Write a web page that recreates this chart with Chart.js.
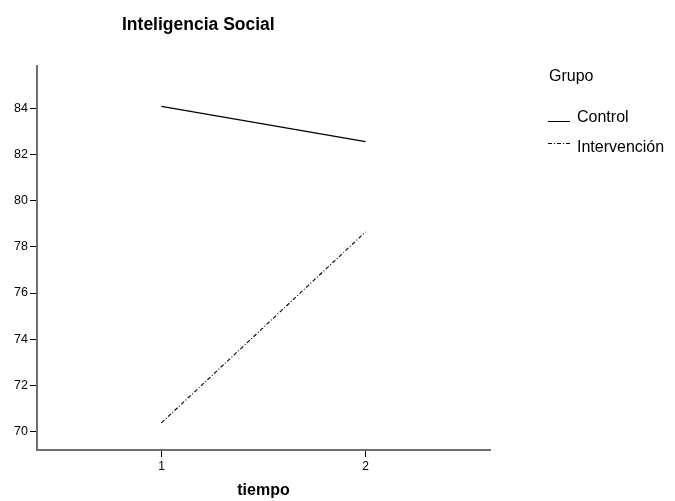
<!DOCTYPE html>
<html lang="es">
  <head>
    <meta charset="UTF-8" />
    <title>Inteligencia Social</title>
    <script src="https://cdn.jsdelivr.net/npm/chart.js"></script>
    <style>
      html, body { margin: 0; padding: 0; background: #fff; }
      #wrap { width: 675px; height: 501px; }
    </style>
  </head>
  <body>
    <div id="wrap"><canvas id="chart" width="675" height="501"></canvas></div>

    <script>
      const tiempo = [1, 2];
      const control = [84.1, 82.57];
      const intervencion = [70.37, 78.65];
      const xTicks = [1, 2];
      const yTicks = [70, 72, 74, 76, 78, 80, 82, 84];

      const FONT = "'Liberation Sans', Arial, sans-serif";

      const toPoints = (vals) => tiempo.map((t, i) => ({ x: t, y: vals[i] }));

      // title and the SPSS-style legend on the right
      const decor = {
        id: "decor",
        afterDraw(chart) {
          const ctx = chart.ctx;
          ctx.save();
          ctx.fillStyle = "#000";
          ctx.textBaseline = "alphabetic";
          ctx.textAlign = "left";
          ctx.font = "bold 17.5px " + FONT;
          ctx.fillText("Inteligencia Social", 122, 30);

          ctx.font = "16px " + FONT;
          ctx.fillText("Grupo", 549, 81);

          const rows = [
            { lineY: 121, textY: 122 },
            { lineY: 143, textY: 152 },
          ];
          chart.data.datasets.forEach((ds, i) => {
            const r = rows[i];
            ctx.beginPath();
            ctx.setLineDash(ds.borderDash || []);
            ctx.lineWidth = 1;
            ctx.strokeStyle = "#000";
            ctx.moveTo(548, r.lineY + 0.5);
            ctx.lineTo(570, r.lineY + 0.5);
            ctx.stroke();
            ctx.setLineDash([]);
            ctx.font = "16px " + FONT;
            ctx.fillText(ds.label, 577, r.textY);
          });
          ctx.restore();
        },
      };

      new Chart(document.getElementById("chart"), {
        type: "line",
        data: {
          datasets: [
            {
              label: "Control",
              data: toPoints(control),
              borderColor: "#000",
              borderWidth: 1.2,
              pointRadius: 0,
              tension: 0,
            },
            {
              label: "Intervención",
              data: toPoints(intervencion),
              borderColor: "#000",
              borderWidth: 1.1,
              borderDash: [4, 2, 1, 2],
              pointRadius: 0,
              tension: 0,
            },
          ],
        },
        options: {
          responsive: false,
          animation: false,
          layout: { padding: { top: 66, right: 185, left: 0, bottom: 0 } },
          plugins: {
            legend: { display: false },
            title: { display: false },
            tooltip: { enabled: false },
          },
          scales: {
            x: {
              type: "linear",
              min: 0.39,
              max: 2.61,
              afterBuildTicks: (s) => { s.ticks = xTicks.map((v) => ({ value: v })); },
              afterFit: (s) => { s.height = 51; },
              grid: { drawOnChartArea: false, drawTicks: true, tickLength: 7, color: "#000" },
              border: { display: true, color: "#6e6e6e", width: 2 },
              ticks: { color: "#000", font: { family: FONT, size: 12 }, padding: 2, maxRotation: 0 },
              title: {
                display: true,
                text: "tiempo",
                color: "#000",
                font: { family: FONT, size: 16, weight: "bold" },
                padding: { top: 4, bottom: 1 },
              },
            },
            y: {
              min: 69.19,
              max: 85.85,
              afterBuildTicks: (s) => { s.ticks = yTicks.map((v) => ({ value: v })); },
              afterFit: (s) => { s.width = 37; },
              grid: { drawOnChartArea: false, drawTicks: true, tickLength: 7, color: "#000" },
              border: { display: true, color: "#6e6e6e", width: 2 },
              ticks: { color: "#000", font: { family: FONT, size: 12.5 }, padding: 2 },
            },
          },
        },
        plugins: [decor],
      });
    </script>
  </body>
</html>
